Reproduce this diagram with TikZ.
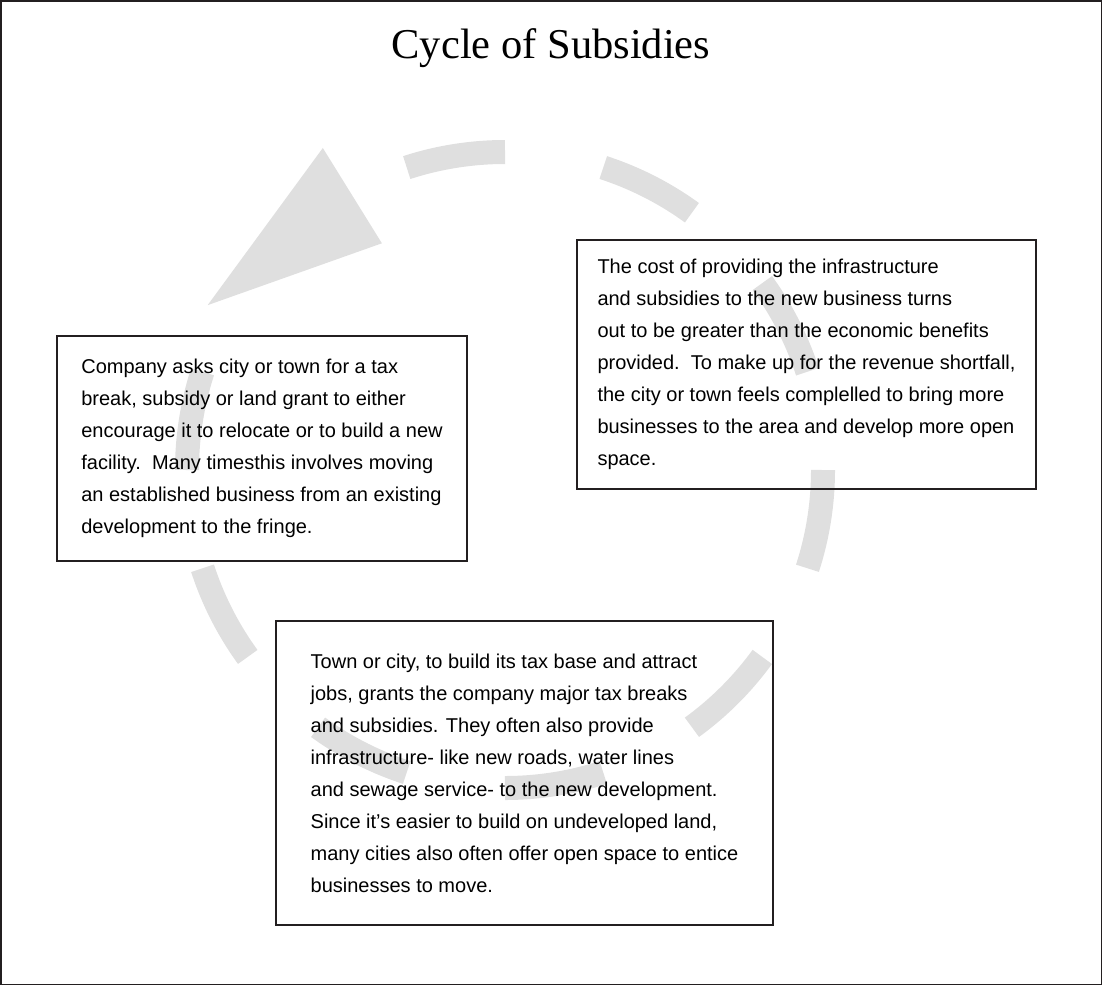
\documentclass[tikz,border=0pt]{standalone}
\usepackage{fontspec}
\setmainfont{Liberation Sans}
\newfontfamily\titlefont{Liberation Serif}
\usepackage{tikz}
\definecolor{cyclegray}{HTML}{DFDFDF}
\definecolor{boxline}{HTML}{231F20}

\begin{document}
\begin{tikzpicture}[x=1pt, y=1pt,
        infobox/.style={draw=boxline, line width=1.6pt, align=left,
            font=\fontsize{20}{32}\selectfont, inner sep=0pt},
        cycledash/.style={draw=cyclegray, line width=24pt}]
        \useasboundingbox (0,0) rectangle (1102,-985);
        \coordinate (O) at (505,-470);
        \foreach \c in {27,63,99,171,207,243,279,315,351}
            \draw[cycledash] ([shift={(\c+9:318)}]O) arc[start angle=\c+9, end angle=\c-9, radius=318];
        \fill[cyclegray] ([shift={(119.5:370)}]O) -- ([shift={(118.5:258)}]O) -- ([shift={(151:340)}]O) -- cycle;
        \node[infobox, minimum width=410, minimum height=225] (company) at (262,-448.5)
            {Company asks city or town for a tax\\
             break, subsidy or land grant to either\\
             encourage it to relocate or to build a new\\
             facility.\ \ Many timesthis involves moving\\
             an established business from an existing\\
             development to the fringe.};
        \node[infobox, minimum width=459, minimum height=249] (cost) at (806.5,-364.5)
            {The cost of providing the infrastructure\\
             and subsidies to the new business turns\\
             out to be greater than the economic benefits\\
             provided.\ \ To make up for the revenue shortfall,\\
             the city or town feels complelled to bring more\\
             businesses to the area and develop more open\\
             space.};
        \node[infobox, minimum width=497, minimum height=304] (grants) at (524.5,-773)
            {Town or city, to build its tax base and attract\\
             jobs, grants the company major tax breaks\\
             and subsidies. They often also provide\\
             infrastructure- like new roads, water lines\\
             and sewage service- to the new development.\\
             Since it’s easier to build on undeveloped land,\\
             many cities also often offer open space to entice\\
             businesses to move.};
        \node[font=\titlefont\fontsize{42.5}{48}\selectfont, anchor=base] (title) at (551,-58) {Cycle of Subsidies};
        \draw[boxline, line width=1.5pt] (0.75,-0.75) rectangle (1101.25,-984.25);
    \end{tikzpicture}
\end{document}
